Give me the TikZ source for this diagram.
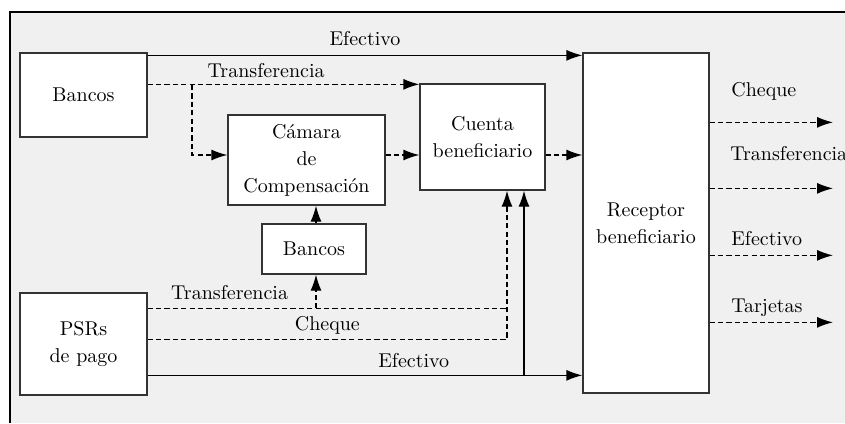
\documentclass[tikz,border=0pt]{standalone}
\usepackage{tikz}
\usetikzlibrary{arrows.meta}
\definecolor{fondo}{HTML}{F0F0F0}
\tikzset{
	caja/.style={draw=black!80, line width=0.65pt, fill=white, align=center, inner sep=0pt, font=\fontsize{10}{13.5}\selectfont},
	flujo/.style={line width=0.65pt, -{Latex[length=8pt,width=5.5pt]}},
	linea/.style={line width=0.65pt},
	punteado/.style={dash pattern=on 2.6pt off 1.6pt},
	etiqueta/.style={inner sep=0pt, font=\fontsize{10}{12}\selectfont}
}

\begin{document}
\begin{tikzpicture}[x=0.5pt, y=-0.5pt]
		%%%%% START %%%%%
		
		\useasboundingbox (0, 0) rectangle (845, 423);
		\fill[white] (0, 0) rectangle (845, 423);
		\fill[fondo] (10, 12) rectangle (845, 423);
		\draw[line width=0.6pt] (10, 423) -- (10, 12) -- (845, 12);
		
		\node[caja, minimum width=63.5pt, minimum height=42pt] (bancos) at (83.5, 95) {Bancos};
		\node[caja, minimum width=78.5pt, minimum height=45pt] (camara) at (306.5, 160) {C\'amara\\de\\Compensaci\'on};
		\node[caja, minimum width=62.5pt, minimum height=53pt] (cuenta) at (482.5, 137) {Cuenta\\beneficiario};
		\node[caja, minimum width=63pt, minimum height=170pt] (receptor) at (646, 223) {Receptor\\beneficiario};
		\node[caja, minimum width=52pt, minimum height=25pt] (bancosb) at (314, 249) {Bancos};
		\node[caja, minimum width=63.5pt, minimum height=51pt] (psr) at (83.5, 344) {PSRs\\de pago};
		
		% desde Bancos
		\coordinate (efA) at ([yshift=-1.5pt]receptor.north west);
		\draw[flujo] (bancos.east |- efA) -- node[etiqueta, anchor=base, pos=0.5, yshift=4.7pt] {Efectivo} (efA);
		
		\coordinate (trA) at ([yshift=-0.5pt]cuenta.north west);
		\draw[flujo, punteado] (bancos.east |- trA) -- node[etiqueta, anchor=base, pos=0.436, yshift=3.3pt] {Transferencia} (trA);
		\coordinate (trB) at (192, 85);
		\coordinate (cmA) at ([yshift=2.5pt]camara.west);
		\draw[flujo, punteado] (trB) -- (trB |- cmA) -- (cmA);
		
		\draw[flujo, punteado] ([yshift=2.5pt]camara.east) -- (cuenta.west |- cmA);
		\draw[flujo, punteado] (cuenta.east |- cmA) -- (receptor.west |- cmA);
		\draw[flujo, punteado] (bancosb.north -| 316, 0) -- (camara.south -| 316, 0);
		
		% desde PSRs de pago
		\coordinate (ch) at ([xshift=12.25pt]cuenta.south);
		\coordinate (ef) at ([xshift=20.75pt]cuenta.south);
		\coordinate (psrT) at ([yshift=-8pt]psr.north east);
		\coordinate (psrC) at ([yshift=-23.5pt]psr.north east);
		\coordinate (psrE) at ([yshift=-41.5pt]psr.north east);
		
		\draw[linea, punteado] (psrT) -- node[etiqueta, anchor=base, pos=0.228, yshift=4.5pt] {Transferencia} (psrT -| ch);
		\draw[flujo, punteado] (psrT -| 316, 0) -- (bancosb.south -| 316, 0);
		\draw[flujo, punteado] (psrC) -- node[etiqueta, anchor=base, pos=0.5, yshift=4.2pt] {Cheque} (psrC -| ch) -- (ch);
		\draw[flujo] (psrE) -- node[etiqueta, anchor=base, pos=0.612, yshift=4pt] {Efectivo} (psrE -| receptor.west);
		\draw[flujo] (psrE -| ef) -- (ef);
		
		% salidas del receptor
		\coordinate (sal1) at ([yshift=-35pt]receptor.north east);
		\coordinate (sal2) at ([yshift=-68pt]receptor.north east);
		\coordinate (sal3) at ([yshift=-101.5pt]receptor.north east);
		\coordinate (sal4) at ([yshift=-135pt]receptor.north east);
		\draw[flujo, punteado] (sal1) -- node[etiqueta, anchor=base west, pos=0, xshift=10.5pt, yshift=13pt] {Cheque} (sal1 -| 833, 0);
		\draw[flujo, punteado] (sal2) -- node[etiqueta, anchor=base west, pos=0, xshift=10pt, yshift=14pt] {Transferencia} (sal2 -| 833, 0);
		\draw[flujo, punteado] (sal3) -- node[etiqueta, anchor=base west, pos=0, xshift=10.5pt, yshift=4.7pt] {Efectivo} (sal3 -| 833, 0);
		\draw[flujo, punteado] (sal4) -- node[etiqueta, anchor=base west, pos=0, xshift=10.5pt, yshift=5pt] {Tarjetas} (sal4 -| 833, 0);
		
		%%%%% END %%%%%
	\end{tikzpicture}
\end{document}
